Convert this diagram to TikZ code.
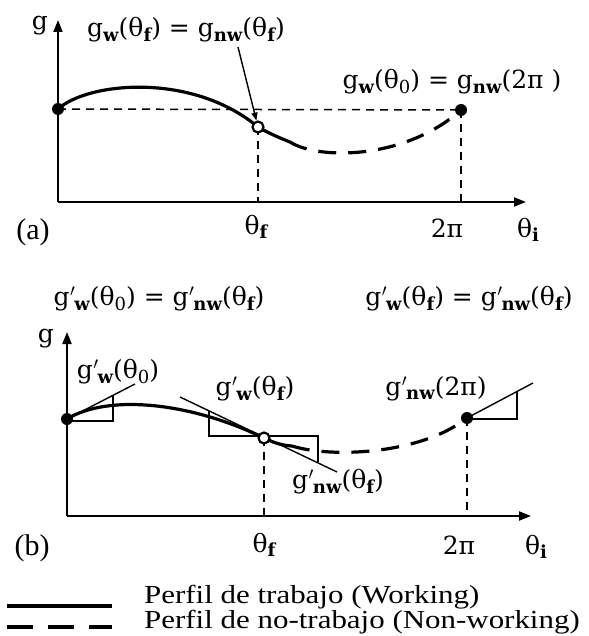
\documentclass[tikz,border=0pt]{standalone}
\usepackage{fontspec}
\setmainfont{Liberation Serif}
\newfontfamily\labf{DejaVu Serif}
\usetikzlibrary{arrows.meta}
\newcommand\sbs[1]{\raisebox{-0.32ex}{\fontsize{18}{18}\selectfont\bfseries #1}}
\newcommand\sbz{\raisebox{-0.32ex}{\fontsize{18}{18}\selectfont 0}}
\newcommand\gpr{g\kern0.5pt$'$\kern-1pt}
\tikzset{
  lab/.style={font=\labf\fontsize{25}{27}\selectfont, inner sep=0pt},
  big/.style={font=\fontsize{30}{32}\selectfont, inner sep=0pt},
  leg/.style={font=\fontsize{26}{28}\selectfont, inner sep=0pt},
  curve/.style={line width=3.2pt},
  dcurve/.style={line width=3.2pt, dash pattern=on 18pt off 12pt},
  helper/.style={line width=1.5pt, dash pattern=on 8pt off 6pt},
  axis/.style={line width=2pt, -{Triangle[length=12pt,width=9pt]}},
  thinline/.style={line width=1.4pt},
  tri/.style={line width=1.8pt},
  fdot/.style={circle, fill=black, minimum size=12pt, inner sep=0pt},
  odot/.style={circle, draw=black, fill=white, line width=2.2pt, minimum size=11pt, inner sep=0pt},
}
\begin{document}
\begin{tikzpicture}[x=1pt,y=-1pt]
\useasboundingbox[fill=white] (0,0) rectangle (588,636);
% ---------------- panel (a) ----------------
\coordinate (Ao) at (58,202);
\coordinate (Ay) at (58,20);
\coordinate (Ax) at (526,202);
\coordinate (pA0) at (58,109);
\coordinate (pAf) at (258,127);
\coordinate (pAe) at (290,142);
\coordinate (pA2) at (461,110);
\draw[axis] (Ao) -- (Ay);
\draw[axis] (Ao) -- (Ax);
\draw[helper] (pA0) -- (pA2);
\draw[helper] (pAf) -- (pAf |- Ao);
\draw[helper] (pA2) -- (pA2 |- Ao);
\draw[curve] (pA0) .. controls (88,82) and (192,72) .. (pAf)
             .. controls (268,133) and (280,138) .. (pAe);
\draw[dcurve] (pAe) .. controls (318,160) and (405,160) .. (pA2);
\node[fdot] (A0) at (pA0) {};
\node[odot] (Af) at (pAf) {};
\node[fdot] (A2) at (pA2) {};
\node[lab] (ga) at (40,26) {g};
\node[lab] (labA1) at (186,30) {g\sbs{w}(θ\sbs{f}) = g\sbs{nw}(θ\sbs{f})};
\node[lab] (labA2) at (452,82) {g\sbs{w}(θ\sbz) = g\sbs{nw}(2π\ )};
\coordinate (arrA) at (238,47);
\draw[thinline, -{Triangle[length=8pt,width=6pt]}] (arrA) -- (Af);
\node[lab] (tfa) at (256,227) {θ\sbs{f}};
\node[lab] (t2a) at (447,228) {2π};
\node[lab] (tia) at (528,230) {θ\sbs{i}};
\node[big] (pa) at (33,232) {(a)};
% ---------------- panel (b) ----------------
\node[lab] (labB1) at (159,299) {\gpr\sbs{w}(θ\sbz) = \gpr\sbs{nw}(θ\sbs{f})};
\node[lab] (labB2) at (469,299) {\gpr\sbs{w}(θ\sbs{f}) = \gpr\sbs{nw}(θ\sbs{f})};
\coordinate (Bo) at (67,516);
\coordinate (By) at (67,332);
\coordinate (Bx) at (531,516);
\coordinate (pB0) at (67,419);
\coordinate (pBf) at (264,438);
\coordinate (pBe) at (292,446);
\coordinate (pB2) at (467,418);
\draw[axis] (Bo) -- (By);
\draw[axis] (Bo) -- (Bx);
\draw[helper] (pBf) -- (pBf |- Bo);
\draw[helper] (pB2) -- (pB2 |- Bo);
% tangent at theta_0
\coordinate (tB0) at (135,384);
\draw[thinline] (pB0) -- (tB0);
\draw[tri] (67,421) -- (113,421) -- (113,395);
% tangent at theta_f
\coordinate (tBf1) at (180,397);
\coordinate (tBf2) at (337,472);
\draw[thinline] (tBf1) -- (tBf2);
\draw[tri] (209,411) -- (209,436) -- (318,436) -- (318,462);
% tangent at 2pi
\coordinate (tB2) at (533,383);
\draw[thinline] (pB2) -- (tB2);
\draw[tri] (467,419) -- (517,419) -- (517,392);
% curves
\draw[curve] (pB0) .. controls (108,394) and (190,402) .. (pBf)
             .. controls (274,443) and (283,445.5) .. (pBe);
\draw[dcurve] (pBe) .. controls (330,458) and (420,455) .. (pB2);
\node[fdot] (B0) at (pB0) {};
\node[odot] (Bf) at (pBf) {};
\node[fdot] (B2) at (pB2) {};
\node[lab] (gb) at (46,339) {g};
\node[lab] (lB0) at (118,372) {\gpr\sbs{w}(θ\sbz)};
\node[lab] (lBf) at (255,389) {\gpr\sbs{w}(θ\sbs{f})};
\node[lab] (lB2) at (436,389) {\gpr\sbs{nw}(2π)};
\node[lab] (lBn) at (338,482) {\gpr\sbs{nw}(θ\sbs{f})};
\node[lab] (tfb) at (264,545) {θ\sbs{f}};
\node[lab] (t2b) at (459,545) {2π};
\node[lab] (tib) at (536,547) {θ\sbs{i}};
\node[big] (pb) at (32,548) {(b)};
% ---------------- legend ----------------
\coordinate (L1a) at (7,606);
\coordinate (L1b) at (112,606);
\coordinate (L2a) at (7,627);
\coordinate (L2b) at (112,627);
\draw[line width=3.2pt] (L1a) -- (L1b);
\draw[line width=3.2pt, dash pattern=on 26pt off 15pt] (L2a) -- (L2b);
\node[leg, anchor=base west] (t1) at (144,603) {\scalebox{1.19}[1]{Perfil de trabajo (Working)}};
\node[leg, anchor=base west] (t2) at (144,628) {\scalebox{1.19}[1]{Perfil de no-trabajo (Non-working)}};
\end{tikzpicture}
\end{document}
